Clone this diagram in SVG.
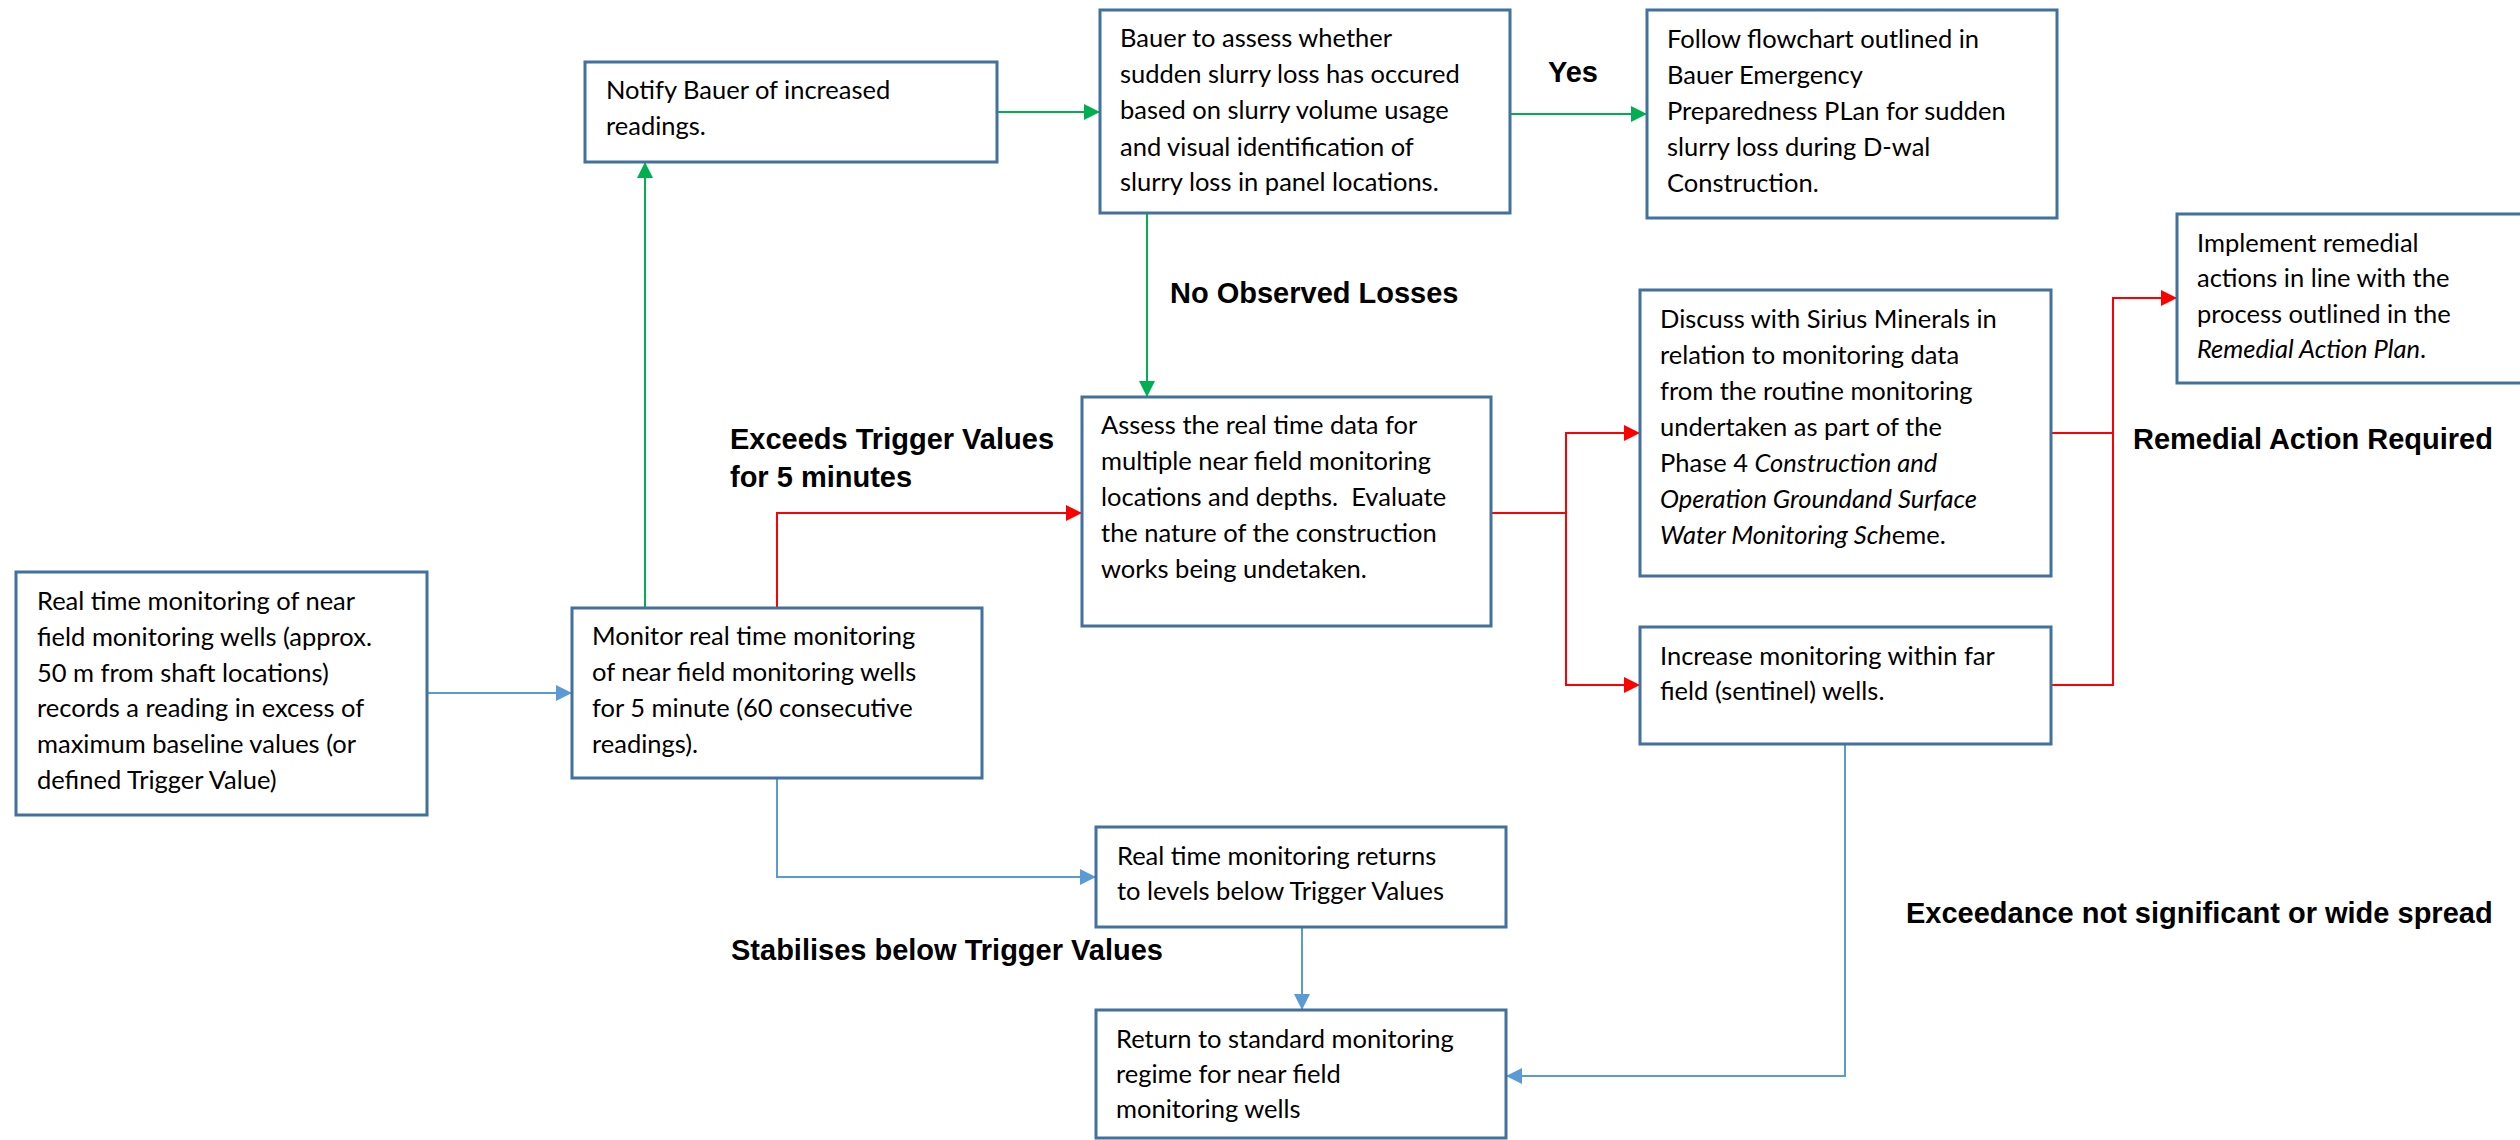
<svg xmlns="http://www.w3.org/2000/svg" width="2520" height="1140" viewBox="0 0 2520 1140">
<style>
.box{fill:#fff;stroke:#41719C;stroke-width:3}
.t{font-family:Lato,"Open Sans",sans-serif;font-size:25.5px;fill:#000}
.i{font-style:italic}
.lbl{font-family:"Liberation Sans",Arial,sans-serif;font-size:29px;font-weight:bold;fill:#000}
.cb{fill:none;stroke:#5B9BD5;stroke-width:2}
.cg{fill:none;stroke:#00B050;stroke-width:2}
.cr{fill:none;stroke:#FF0000;stroke-width:2}
</style>
<defs>
<marker id="ab" markerUnits="userSpaceOnUse" markerWidth="16" markerHeight="16" viewBox="0 0 16 16" refX="16" refY="8" orient="auto"><path d="M0,0 L16,8 L0,16 Z" fill="#5B9BD5"/></marker>
<marker id="ag" markerUnits="userSpaceOnUse" markerWidth="16" markerHeight="16" viewBox="0 0 16 16" refX="16" refY="8" orient="auto"><path d="M0,0 L16,8 L0,16 Z" fill="#00B050"/></marker>
<marker id="ar" markerUnits="userSpaceOnUse" markerWidth="16" markerHeight="16" viewBox="0 0 16 16" refX="16" refY="8" orient="auto"><path d="M0,0 L16,8 L0,16 Z" fill="#FF0000"/></marker>
</defs>
<rect width="2520" height="1140" fill="#fff"/>

<g id="connectors">
<path class="cb" d="M427,693 H572" marker-end="url(#ab)"/>
<path class="cg" d="M645,608 V162" marker-end="url(#ag)"/>
<path class="cg" d="M997,112 H1100" marker-end="url(#ag)"/>
<path class="cg" d="M1510,114 H1647" marker-end="url(#ag)"/>
<path class="cg" d="M1147,213 V397" marker-end="url(#ag)"/>
<path class="cr" d="M777,608 V513 H1082" marker-end="url(#ar)"/>
<path class="cr" d="M1491,513 H1566 V433 H1640" marker-end="url(#ar)"/>
<path class="cr" d="M1566,513 V685 H1640" marker-end="url(#ar)"/>
<path class="cr" d="M2051,433 H2113 V298 H2177" marker-end="url(#ar)"/>
<path class="cr" d="M2051,685 H2113 V433"/>
<path class="cb" d="M777,778 V877 H1096" marker-end="url(#ab)"/>
<path class="cb" d="M1302,927 V1010" marker-end="url(#ab)"/>
<path class="cb" d="M1845,744 V1076 H1506" marker-end="url(#ab)"/>
</g>

<g id="labels">
<text class="lbl" x="1548" y="82">Yes</text>
<text class="lbl" x="1170" y="303">No Observed Losses</text>
<text class="lbl" x="730" y="449">Exceeds Trigger Values</text>
<text class="lbl" x="730" y="487">for 5 minutes</text>
<text class="lbl" x="2133" y="449">Remedial Action Required</text>
<text class="lbl" x="731" y="960">Stabilises below Trigger Values</text>
<text class="lbl" x="1906" y="923">Exceedance not significant or wide spread</text>
</g>

<g id="n-realtime">
<rect class="box" x="16" y="572" width="411" height="243"/>
<text class="t" x="37"><tspan x="37" y="610">Real time monitoring of near</tspan><tspan x="37" y="646">field monitoring wells (approx.</tspan><tspan x="37" y="682">50 m from shaft locations)</tspan><tspan x="37" y="717">records a reading in excess of</tspan><tspan x="37" y="753">maximum baseline values (or</tspan><tspan x="37" y="789">defined Trigger Value)</tspan></text>
</g>

<g id="n-monitor">
<rect class="box" x="572" y="608" width="410" height="170"/>
<text class="t"><tspan x="592" y="645">Monitor real time monitoring</tspan><tspan x="592" y="681">of near field monitoring wells</tspan><tspan x="592" y="717">for 5 minute (60 consecutive</tspan><tspan x="592" y="753">readings).</tspan></text>
</g>

<g id="n-notify">
<rect class="box" x="585" y="62" width="412" height="100"/>
<text class="t"><tspan x="606" y="99">Notify Bauer of increased</tspan><tspan x="606" y="135">readings.</tspan></text>
</g>

<g id="n-bauer">
<rect class="box" x="1100" y="10" width="410" height="203"/>
<text class="t"><tspan x="1120" y="47">Bauer to assess whether</tspan><tspan x="1120" y="83">sudden slurry loss has occured</tspan><tspan x="1120" y="119">based on slurry volume usage</tspan><tspan x="1120" y="156">and visual identification of</tspan><tspan x="1120" y="191">slurry loss in panel locations.</tspan></text>
</g>

<g id="n-follow">
<rect class="box" x="1647" y="10" width="410" height="208"/>
<text class="t"><tspan x="1667" y="48">Follow flowchart outlined in</tspan><tspan x="1667" y="84">Bauer Emergency</tspan><tspan x="1667" y="120">Preparedness PLan for sudden</tspan><tspan x="1667" y="156">slurry loss during D-wal</tspan><tspan x="1667" y="192">Construction.</tspan></text>
</g>

<g id="n-assess">
<rect class="box" x="1082" y="397" width="409" height="229"/>
<text class="t"><tspan x="1101" y="434">Assess the real time data for</tspan><tspan x="1101" y="470">multiple near field monitoring</tspan><tspan x="1101" y="506">locations and depths.&#160; Evaluate</tspan><tspan x="1101" y="542">the nature of the construction</tspan><tspan x="1101" y="578">works being undetaken.</tspan></text>
</g>

<g id="n-discuss">
<rect class="box" x="1640" y="290" width="411" height="286"/>
<text class="t"><tspan x="1660" y="328">Discuss with Sirius Minerals in</tspan><tspan x="1660" y="364">relation to monitoring data</tspan><tspan x="1660" y="400">from the routine monitoring</tspan><tspan x="1660" y="436">undertaken as part of the</tspan><tspan x="1660" y="472">Phase 4 <tspan class="i">Construction and</tspan></tspan><tspan x="1660" y="508" class="i">Operation Groundand Surface</tspan><tspan x="1660" y="544"><tspan class="i">Water Monitoring Sch</tspan>eme.</tspan></text>
</g>

<g id="n-increase">
<rect class="box" x="1640" y="627" width="411" height="117"/>
<text class="t"><tspan x="1660" y="665">Increase monitoring within far</tspan><tspan x="1660" y="700">field (sentinel) wells.</tspan></text>
</g>

<g id="n-implement">
<rect class="box" x="2177" y="214" width="370" height="169"/>
<text class="t"><tspan x="2197" y="252">Implement remedial</tspan><tspan x="2197" y="287">actions in line with the</tspan><tspan x="2197" y="323">process outlined in the</tspan><tspan x="2197" y="358"><tspan class="i">Remedial Action Plan</tspan>.</tspan></text>
</g>

<g id="n-returns">
<rect class="box" x="1096" y="827" width="410" height="100"/>
<text class="t"><tspan x="1117" y="865">Real time monitoring returns</tspan><tspan x="1117" y="900">to levels below Trigger Values</tspan></text>
</g>

<g id="n-return">
<rect class="box" x="1096" y="1010" width="410" height="128"/>
<text class="t"><tspan x="1116" y="1048">Return to standard monitoring</tspan><tspan x="1116" y="1083">regime for near field</tspan><tspan x="1116" y="1118">monitoring wells</tspan></text>
</g>
</svg>
